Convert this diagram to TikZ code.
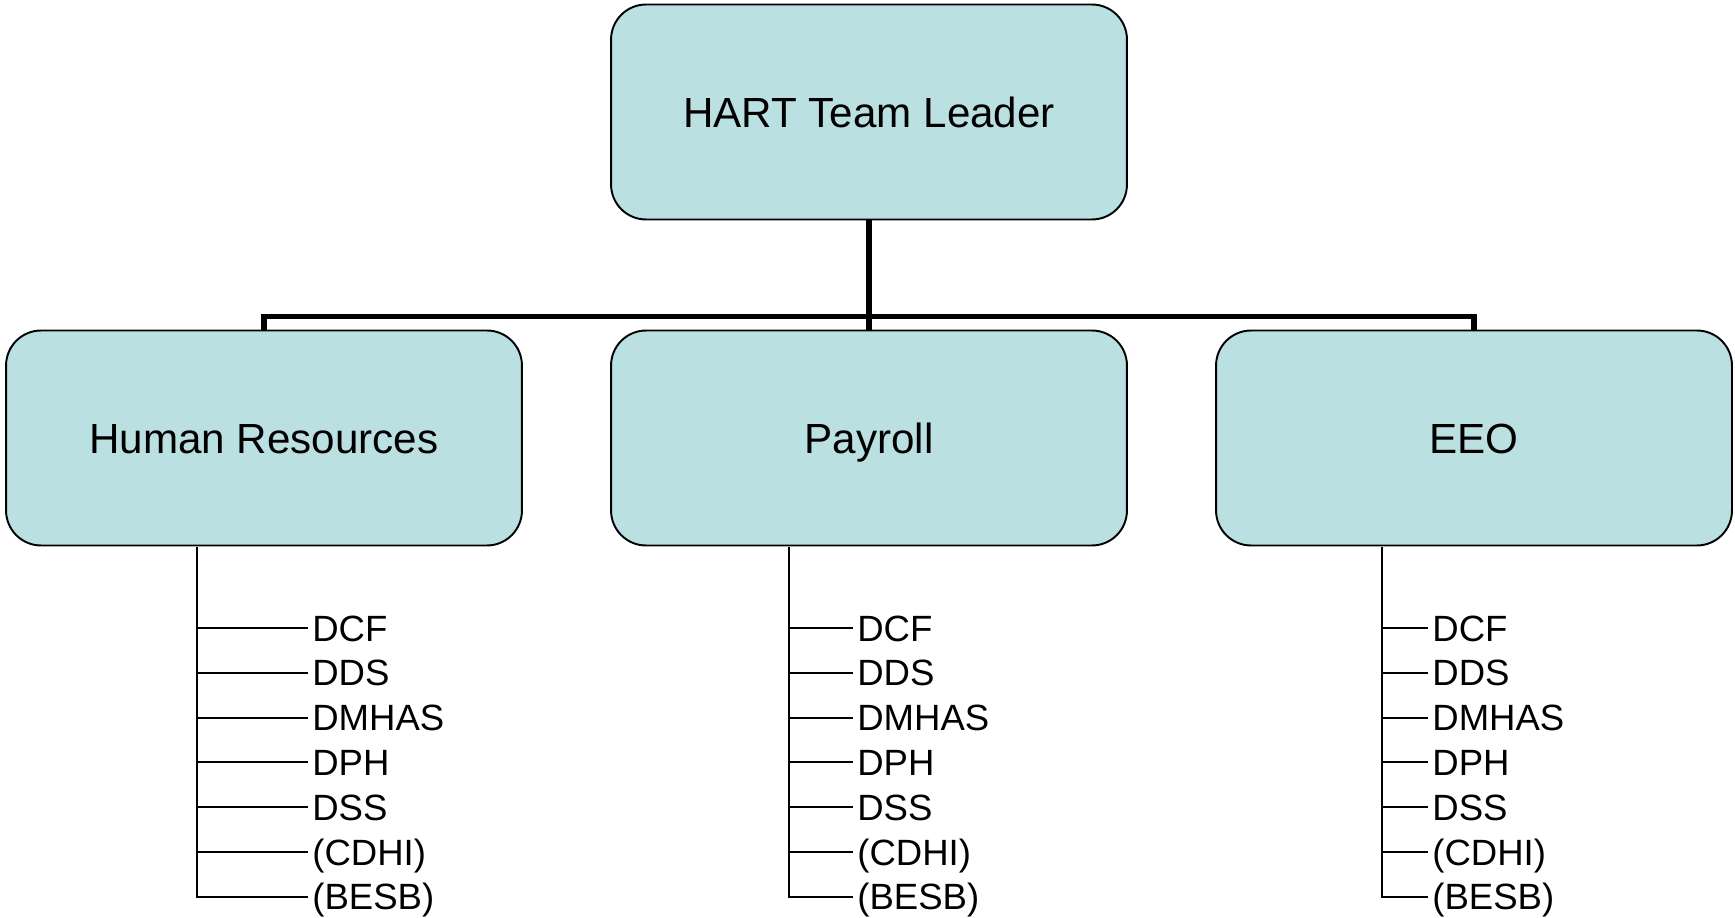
\documentclass[tikz,border=0pt]{standalone}
\usepackage{fontspec}
\setmainfont{Liberation Sans}
\usetikzlibrary{positioning}
\definecolor{boxblue}{RGB}{186,224,226}

\begin{document}
\begin{tikzpicture}[x=0.02cm, y=-0.02cm,
  unit/.style={draw, rounded corners=0.7cm, fill=boxblue, line width=1.1pt,
    minimum width=10.32cm, minimum height=4.3cm, text height=17.3pt, text depth=0pt,
    font=\fontsize{24}{28}\selectfont},
  item/.style={anchor=west, inner sep=0.08cm, text height=15pt, text depth=0pt,
    font=\fontsize{20.8}{24}\selectfont},
  trunk/.style={line width=3pt},
  twig/.style={line width=1.2pt}]
  \useasboundingbox (0,0) rectangle (1735,918);

  \node[unit] (lead) at (869,112) {HART Team Leader};

  \node[unit] (hr) at (264,438) {Human Resources};
  \node[unit] (pay) at (869,438) {Payroll};
  \node[unit] (eeo) at (1474,438) {EEO};

  \draw[trunk] (lead) -- (pay);
  \draw[trunk] (hr.north) -- ++(0,-13) -| (eeo.north);

  % agency lists under each unit
  \foreach \dept/\sx/\tx in {hr/197/308, pay/789/853, eeo/1382/1428} {
    \coordinate (\dept-top) at (\sx,547);
    \foreach \name [count=\i] in {DCF, DDS, DMHAS, DPH, DSS, {(CDHI)}, {(BESB)}}
      \node[item] (\dept-\i) at ({\tx},{583.2+44.8*\i}) {\name};
    \draw[twig] (\dept-top) |- (\dept-7.west);
    \foreach \i in {1,...,6}
      \draw[twig] (\dept-top |- \dept-\i.west) -- (\dept-\i.west);
  }
\end{tikzpicture}
\end{document}
